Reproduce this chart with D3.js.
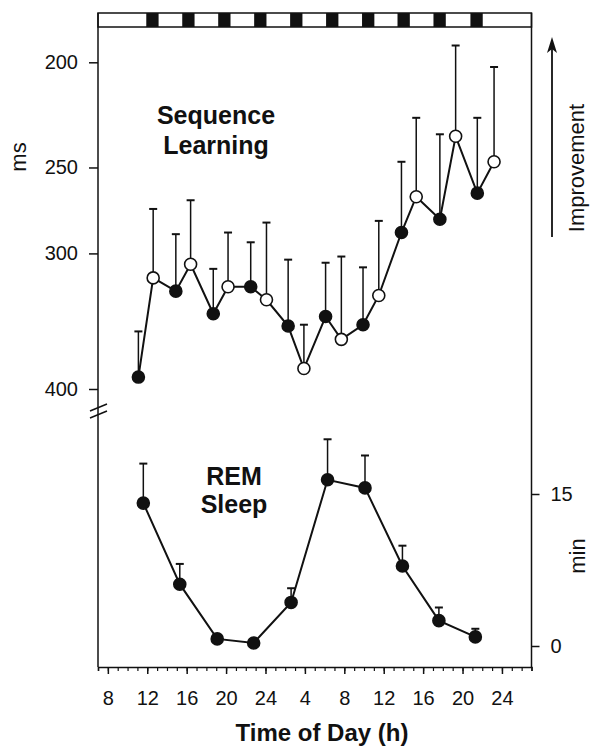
<html>
<head>
<title>Sequence learning and REM sleep</title>
<script src="https://d3js.org/d3.v7.min.js"></script>
<style>
body { margin: 0; background: #fff; }
text { font-family: "Liberation Sans", Arial, sans-serif; fill: #111; }
.tick-label { font-size: 20px; }
.side-label { font-size: 22px; }
.panel-label { font-size: 25px; font-weight: bold; }
.axis-title { font-size: 24px; font-weight: bold; }
</style>
</head>
<body>
<div id="vis_container"></div>
<script>

// time of day in hours since midnight of day 1 (24+ = day 2)
var seqHours = [11.1, 12.6, 14.9, 16.4, 18.7, 20.2, 22.5, 24.1, 26.3, 27.9,
                30.1, 31.7, 33.9, 35.5, 37.8, 39.3, 41.7, 43.3, 45.5, 47.2];
var seqMs    = [390, 316, 325, 307, 341, 322, 322, 331, 350, 383,
                343, 360, 349, 328, 287, 266, 279, 234, 264, 247];
var seqSem   = [36, 43, 37, 39, 31, 35, 29, 50, 46, 34,
                37, 58, 40, 48, 40, 41, 46, 41, 39, 45];
var seqOpen  = [0, 1, 0, 1, 0, 1, 0, 1, 0, 1,
                0, 1, 0, 1, 0, 1, 0, 1, 0, 1];

var remHours = [11.6, 15.3, 19.1, 22.8, 26.6, 30.3, 34.1, 37.9, 41.6, 45.3];
var remMin   = [14.1, 6.1, 0.7, 0.3, 4.3, 16.4, 15.6, 7.9, 2.5, 0.9];
var remSem   = [3.9, 2.0, 0.2, 0.1, 1.4, 4.0, 3.2, 2.0, 1.3, 0.8];

// sleep episodes (dark squares in the top bar)
var napStart = [11.9, 15.55, 19.2, 22.85, 26.5, 30.15, 33.8, 37.4, 41.05, 44.8];
var napLength = 1.25;

var hourTicks = [8, 12, 16, 20, 24, 28, 32, 36, 40, 44, 48];
var hourLabels = ["8", "12", "16", "20", "24", "4", "8", "12", "16", "20", "24"];
var msTicks = [200, 250, 300, 400];
var minTicks = [0, 15];

var width = 592, height = 749;
var left = 98, right = 531.5, barTop = 13, boxTop = 27, bottom = 667;

var svg = d3.select("#vis_container")
    .append("svg")
    .attr("width", width)
    .attr("height", height);

var x = d3.scaleLinear().domain([7, 51]).range([left, right]);
var yMs = d3.scaleLog().domain([200, 400]).range([62.3, 389]);
var yMin = d3.scaleLinear().domain([0, 15]).range([646, 494]);

// top light/dark bar
svg.append("rect")
    .attr("x", left).attr("y", barTop)
    .attr("width", right - left).attr("height", boxTop - barTop)
    .attr("fill", "none").attr("stroke", "#111").attr("stroke-width", 1.5);

svg.selectAll(".nap")
    .data(napStart)
    .enter()
    .append("rect")
    .attr("class", "nap")
    .attr("x", function(d) { return x(d); })
    .attr("y", barTop)
    .attr("width", function(d) { return x(d + napLength) - x(d); })
    .attr("height", boxTop - barTop)
    .attr("fill", "#111");

// frame: left, right lines (bottom is the x axis)
svg.append("line").attr("x1", left).attr("x2", left).attr("y1", barTop).attr("y2", bottom)
    .attr("stroke", "#111").attr("stroke-width", 1.5);
svg.append("line").attr("x1", right).attr("x2", right).attr("y1", barTop).attr("y2", bottom)
    .attr("stroke", "#111").attr("stroke-width", 1.5);

// bottom axis with hourly minor ticks
var xAxis = svg.append("g")
    .attr("transform", "translate(0," + bottom + ")")
    .call(d3.axisBottom(x).tickValues(d3.range(7, 52)).tickSize(4).tickFormat(""));
xAxis.select(".domain").attr("stroke", "#111").attr("stroke-width", 1.5);
xAxis.selectAll("line").attr("stroke", "#111").attr("stroke-width", 1.2);

var xMajor = svg.append("g")
    .attr("transform", "translate(0," + bottom + ")")
    .call(d3.axisBottom(x).tickValues(hourTicks).tickSize(7)
        .tickFormat(function(d, i) { return hourLabels[i]; }));
xMajor.select(".domain").remove();
xMajor.selectAll("line").attr("stroke", "#111").attr("stroke-width", 1.5);
xMajor.selectAll("text")
    .attr("class", "tick-label")
    .attr("font-family", null).attr("font-size", null)
    .attr("y", 24).attr("dy", "0.71em");

svg.append("text")
    .attr("class", "axis-title")
    .attr("x", 322).attr("y", 741)
    .attr("text-anchor", "middle")
    .text("Time of Day (h)");

// left axis (ms, log scale, improvement is up)
var yAxisL = svg.append("g")
    .attr("transform", "translate(" + left + ",0)")
    .call(d3.axisLeft(yMs).tickValues(msTicks).tickSize(9).tickFormat(d3.format("d")));
yAxisL.select(".domain").remove();
yAxisL.selectAll("line").attr("stroke", "#111").attr("stroke-width", 1.5);
yAxisL.selectAll("text")
    .attr("class", "tick-label")
    .attr("font-family", null).attr("font-size", null)
    .attr("x", -20);

// axis break
[407, 414].forEach(function(yb) {
    svg.append("line")
        .attr("x1", left - 8).attr("y1", yb + 4)
        .attr("x2", left + 9).attr("y2", yb - 3)
        .attr("stroke", "#111").attr("stroke-width", 1.5);
});

svg.append("text")
    .attr("class", "side-label")
    .attr("transform", "translate(26,157) rotate(-90)")
    .attr("text-anchor", "middle")
    .text("ms");

// right axis (REM minutes)
var yAxisR = svg.append("g")
    .attr("transform", "translate(" + right + ",0)")
    .call(d3.axisRight(yMin).tickValues(minTicks).tickSize(8));
yAxisR.select(".domain").remove();
yAxisR.selectAll("line").attr("stroke", "#111").attr("stroke-width", 1.5);
yAxisR.selectAll("text")
    .attr("class", "tick-label")
    .attr("font-family", null).attr("font-size", null)
    .attr("x", 19);

svg.append("text")
    .attr("class", "side-label")
    .attr("font-size", "20px")
    .attr("transform", "translate(585,556) rotate(-90)")
    .attr("text-anchor", "middle")
    .text("min");

// improvement arrow
svg.append("line")
    .attr("x1", 552).attr("x2", 552).attr("y1", 237).attr("y2", 48)
    .attr("stroke", "#111").attr("stroke-width", 1.8);
svg.append("path")
    .attr("d", "M552,37 L547,53 L552,49 L557,53 Z")
    .attr("fill", "#111");
svg.append("text")
    .attr("class", "side-label")
    .attr("font-size", "25px")
    .attr("transform", "translate(584,168) rotate(-90)")
    .attr("text-anchor", "middle")
    .text("Improvement");

// panel labels
svg.append("text").attr("class", "panel-label")
    .attr("x", 216).attr("y", 124).attr("text-anchor", "middle").text("Sequence");
svg.append("text").attr("class", "panel-label")
    .attr("x", 216).attr("y", 154).attr("text-anchor", "middle").text("Learning");
svg.append("text").attr("class", "panel-label")
    .attr("x", 234).attr("y", 485).attr("text-anchor", "middle").text("REM");
svg.append("text").attr("class", "panel-label")
    .attr("x", 234).attr("y", 513).attr("text-anchor", "middle").text("Sleep");

// sequence learning
var seqData = seqHours.map(function(h, i) {
    return {h: h, v: seqMs[i], e: seqSem[i], open: seqOpen[i]};
});

var seqErr = svg.selectAll(".seq-err")
    .data(seqData)
    .enter()
    .append("g")
    .attr("class", "seq-err");
seqErr.append("line")
    .attr("x1", function(d) { return x(d.h); })
    .attr("x2", function(d) { return x(d.h); })
    .attr("y1", function(d) { return yMs(d.v); })
    .attr("y2", function(d) { return yMs(d.v - d.e); })
    .attr("stroke", "#111").attr("stroke-width", 1.5);
seqErr.append("line")
    .attr("x1", function(d) { return x(d.h) - 4; })
    .attr("x2", function(d) { return x(d.h) + 4; })
    .attr("y1", function(d) { return yMs(d.v - d.e); })
    .attr("y2", function(d) { return yMs(d.v - d.e); })
    .attr("stroke", "#111").attr("stroke-width", 2);

svg.append("path")
    .datum(seqData)
    .attr("fill", "none")
    .attr("stroke", "#111")
    .attr("stroke-width", 2)
    .attr("d", d3.line()
        .x(function(d) { return x(d.h); })
        .y(function(d) { return yMs(d.v); }));

svg.selectAll(".seq-dot")
    .data(seqData)
    .enter()
    .append("circle")
    .attr("class", "seq-dot")
    .attr("cx", function(d) { return x(d.h); })
    .attr("cy", function(d) { return yMs(d.v); })
    .attr("r", 6)
    .attr("fill", function(d) { return d.open ? "#fff" : "#111"; })
    .attr("stroke", "#111")
    .attr("stroke-width", 1.6);

// REM sleep
var remData = remHours.map(function(h, i) {
    return {h: h, v: remMin[i], e: remSem[i]};
});

var remErr = svg.selectAll(".rem-err")
    .data(remData)
    .enter()
    .append("g")
    .attr("class", "rem-err");
remErr.append("line")
    .attr("x1", function(d) { return x(d.h); })
    .attr("x2", function(d) { return x(d.h); })
    .attr("y1", function(d) { return yMin(d.v); })
    .attr("y2", function(d) { return yMin(d.v + d.e); })
    .attr("stroke", "#111").attr("stroke-width", 1.5);
remErr.append("line")
    .attr("x1", function(d) { return x(d.h) - 4; })
    .attr("x2", function(d) { return x(d.h) + 4; })
    .attr("y1", function(d) { return yMin(d.v + d.e); })
    .attr("y2", function(d) { return yMin(d.v + d.e); })
    .attr("stroke", "#111").attr("stroke-width", 2);

svg.append("path")
    .datum(remData)
    .attr("fill", "none")
    .attr("stroke", "#111")
    .attr("stroke-width", 2)
    .attr("d", d3.line()
        .x(function(d) { return x(d.h); })
        .y(function(d) { return yMin(d.v); }));

svg.selectAll(".rem-dot")
    .data(remData)
    .enter()
    .append("circle")
    .attr("class", "rem-dot")
    .attr("cx", function(d) { return x(d.h); })
    .attr("cy", function(d) { return yMin(d.v); })
    .attr("r", 6)
    .attr("fill", "#111")
    .attr("stroke", "#111")
    .attr("stroke-width", 1.6);

</script>
</body>
</html>
